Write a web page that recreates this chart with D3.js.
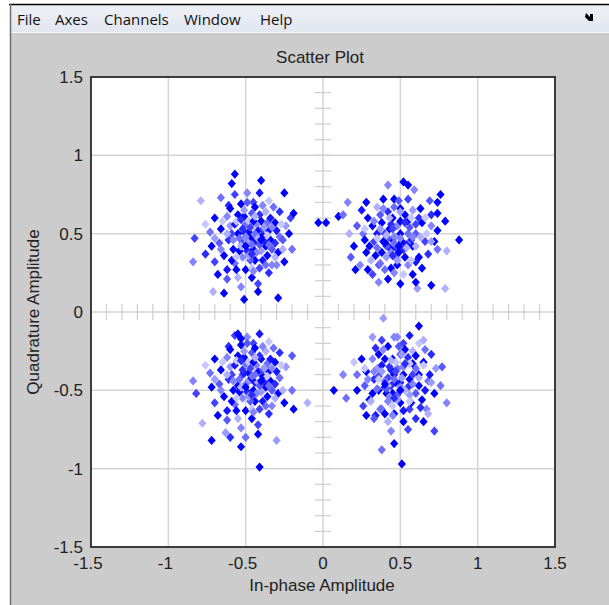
<!DOCTYPE html>
<html><head><meta charset="utf-8">
<script src="https://cdn.jsdelivr.net/npm/d3@7"></script>
<style>html,body{margin:0;padding:0;background:#fff;}svg{display:block;}</style>
</head><body>
<script>
// ---- data: [in-phase, quadrature, fade (0 = newest/blue, 1 = oldest/faint)] ----
const menuItems = ["File", "Axes", "Channels", "Window", "Help"];
const xTicks = [-1.5, -1, -0.5, 0, 0.5, 1, 1.5];
const yTicks = [-1.5, -1, -0.5, 0, 0.5, 1, 1.5];
const titleText = "Scatter Plot";
const xLabel = "In-phase Amplitude";
const yLabel = "Quadrature Amplitude";

const clusterTL = [
[-0.47,0.47,0],[-0.42,0.52,0],[-0.52,0.44,0.3],[-0.45,0.40,0],[-0.38,0.45,0.2],[-0.55,0.50,0],[-0.50,0.56,0.5],[-0.40,0.58,0],
[-0.35,0.52,0],[-0.33,0.40,0.4],[-0.44,0.33,0],[-0.52,0.35,0.6],[-0.58,0.40,0],[-0.61,0.46,0.2],[-0.60,0.55,0.7],[-0.55,0.62,0],
[-0.46,0.63,0.4],[-0.37,0.64,0.8],[-0.31,0.57,0],[-0.28,0.48,0.5],[-0.36,0.36,0],[-0.41,0.28,0.3],[-0.50,0.27,0],[-0.57,0.31,0.5],
[-0.64,0.36,0],[-0.67,0.44,0.4],[-0.66,0.53,0],[-0.62,0.61,0.6],[-0.53,0.69,0],[-0.45,0.70,0.3],[-0.35,0.71,0.9],[-0.28,0.64,0.2],
[-0.24,0.55,0.7],[-0.29,0.38,0],[-0.33,0.30,0.6],[-0.46,0.22,0],[-0.55,0.22,0.8],[-0.62,0.27,0.1],[-0.70,0.32,0.3],[-0.72,0.42,0],
[-0.73,0.51,0.5],[-0.70,0.60,0],[-0.61,0.68,0.2],[-0.49,0.76,0.6],[-0.41,0.76,0.1],[-0.32,0.67,0.5],[-0.44,0.45,0.1],[-0.48,0.51,0],
[-0.43,0.56,0.6],[-0.39,0.49,0],[-0.49,0.39,0.2],[-0.54,0.47,0.5],[-0.57,0.56,0.1],[-0.51,0.61,0],[-0.41,0.62,0.2],[-0.36,0.57,0.5],
[-0.34,0.46,0],[-0.40,0.39,0.7],[-0.47,0.33,0.4],[-0.54,0.39,0],[-0.59,0.50,0.3],[-0.48,0.58,0.9],[-0.44,0.50,0.5],[-0.37,0.42,0],
[-0.31,0.44,0.2],[-0.26,0.40,0.8],[-0.39,0.33,0.1],[-0.59,0.33,0],[-0.66,0.40,0.6],[-0.51,0.51,0.1],[-0.46,0.28,0.9],[-0.35,0.25,0.2],
[-0.25,0.32,0],[-0.62,0.21,0.4],[-0.68,0.24,0],[-0.76,0.56,0.9],[-0.57,0.75,0.3],[-0.44,0.67,0],[-0.30,0.52,0.1],[-0.20,0.40,0.5],
[-0.42,0.18,0.3],[-0.53,0.16,0.6],[-0.60,0.66,0],[-0.39,0.53,0.3],[-0.52,0.53,0.2],[-0.56,0.27,0],[-0.34,0.60,0.1],[-0.49,0.45,0.7],
[-0.45,0.58,0],
[-0.46,0.43,0.5],[-0.42,0.47,0.8],[-0.50,0.48,0.6],[-0.47,0.54,0.3],[-0.38,0.54,0.7],[-0.43,0.38,0.6],[-0.53,0.42,0.8],[-0.56,0.58,0.9],
[-0.36,0.49,0.9],[-0.41,0.43,0.4],[-0.51,0.65,0.7],[-0.33,0.54,0.6],[-0.56,0.35,0.9],[-0.48,0.36,0.7],[-0.62,0.50,0.8],[-0.39,0.68,0.6],
[-0.27,0.56,0.9],[-0.45,0.26,0.6],[-0.65,0.58,0.9],[-0.58,0.46,0.6],[-0.49,0.70,0.4],[-0.31,0.35,0.8],[-0.70,0.47,0.7],[-0.37,0.30,0.5],
[-0.53,0.59,0.2],[-0.44,0.61,0.8],[-0.40,0.46,0],[-0.50,0.42,0],[-0.46,0.37,0.2],[-0.35,0.43,0.5],
[-0.57,0.88,0],[-0.59,0.82,0],[-0.40,0.84,0],[-0.25,0.76,0],[-0.79,0.71,0.8],[-0.03,0.57,0],[-0.84,0.32,0.6],[-0.64,0.12,0],
[-0.51,0.08,0],[-0.29,0.09,0],[-0.42,0.13,0],[-0.71,0.13,0.8],[-0.76,0.37,0.2],[-0.83,0.47,0.3],[-0.66,0.73,0.5],[-0.26,0.46,0.4],
[-0.22,0.50,0],[-0.21,0.60,0.3],[-0.30,0.30,0.6],[-0.19,0.63,0]
];

const clusterTR = [
[0.45,0.46,0],[0.50,0.50,0],[0.40,0.50,0.3],[0.42,0.42,0],[0.52,0.40,0.2],[0.48,0.55,0.6],[0.38,0.57,0],[0.55,0.58,0],
[0.60,0.50,0.4],[0.58,0.42,0],[0.47,0.35,0.5],[0.38,0.38,0],[0.33,0.45,0.3],[0.32,0.55,0],[0.42,0.64,0.2],[0.50,0.66,0],
[0.58,0.65,0.7],[0.64,0.57,0],[0.66,0.45,0.3],[0.62,0.35,0],[0.55,0.30,0.6],[0.44,0.28,0],[0.36,0.30,0.4],[0.28,0.38,0],
[0.26,0.50,0.5],[0.29,0.60,0],[0.35,0.67,0.8],[0.46,0.72,0],[0.55,0.72,0.3],[0.63,0.66,0],[0.70,0.55,0.6],[0.72,0.45,0],
[0.68,0.37,0.2],[0.64,0.28,0],[0.52,0.24,0.9],[0.42,0.21,0],[0.32,0.24,0.3],[0.24,0.30,0.6],[0.20,0.42,0],[0.22,0.55,0.4],
[0.25,0.65,0.1],[0.46,0.48,0.6],[0.43,0.53,0],[0.51,0.45,0],[0.47,0.41,0.3],[0.39,0.45,0],[0.55,0.50,0.5],[0.53,0.35,0],
[0.41,0.35,0.7],[0.35,0.50,0.1],[0.45,0.60,0],[0.57,0.46,0.2],[0.48,0.30,0],[0.60,0.42,0.8],[0.37,0.62,0.4],[0.53,0.62,0],
[0.62,0.60,0.2],[0.30,0.42,0],[0.40,0.27,0.5],[0.58,0.24,0],[0.67,0.50,0.9],[0.49,0.38,0],[0.44,0.56,0.2],[0.34,0.36,0],
[0.56,0.54,0.4],[0.27,0.46,0],[0.46,0.67,0.5],[0.39,0.72,0],[0.59,0.78,0.6],[0.70,0.62,0.2],[0.74,0.52,0],[0.74,0.40,0.5],
[0.60,0.32,0.1],[0.50,0.18,0],[0.36,0.19,0.6],[0.29,0.27,0],[0.18,0.35,0.4],[0.17,0.50,0.8],[0.54,0.43,0.1],[0.42,0.47,0.4],
[0.50,0.58,0],[0.60,0.56,0.3],[0.44,0.40,0.1],
[0.46,0.44,0.5],[0.41,0.49,0.8],[0.50,0.47,0.6],[0.45,0.53,0.3],[0.37,0.53,0.7],[0.44,0.38,0.6],[0.54,0.41,0.8],[0.57,0.60,0.9],
[0.35,0.47,0.9],[0.41,0.42,0.4],[0.50,0.64,0.7],[0.33,0.58,0.6],[0.57,0.33,0.9],[0.48,0.33,0.7],[0.63,0.48,0.8],[0.39,0.66,0.6],
[0.27,0.53,0.9],[0.46,0.25,0.6],[0.66,0.60,0.9],[0.58,0.48,0.6],[0.49,0.71,0.4],[0.31,0.33,0.8],[0.70,0.45,0.7],[0.37,0.31,0.5],
[0.53,0.57,0.2],[0.43,0.60,0.8],[0.40,0.44,0],[0.49,0.42,0],[0.45,0.36,0.2],[0.35,0.41,0.5],
[0.52,0.83,0],[0.55,0.81,0],[0.42,0.81,0.6],[0.76,0.75,0],[0.74,0.70,0],[0.74,0.63,0],[0.79,0.58,0],[0.88,0.46,0],
[0.10,0.61,0],[0.16,0.70,0.6],[0.28,0.70,0],[0.69,0.71,0.4],[0.79,0.15,0.8],[0.70,0.17,0],[0.61,0.15,0.7],[0.21,0.27,0],
[0.80,0.39,0.8],[0.60,0.19,0],[0.02,0.57,0],[0.13,0.62,0.5]
];

const clusterBL = [
[-0.47,-0.43,0],[-0.42,-0.38,0],[-0.52,-0.40,0.3],[-0.45,-0.50,0],[-0.38,-0.45,0.2],[-0.55,-0.47,0],[-0.50,-0.33,0.5],[-0.40,-0.30,0],
[-0.35,-0.38,0],[-0.33,-0.50,0.4],[-0.44,-0.57,0],[-0.52,-0.55,0.6],[-0.58,-0.50,0],[-0.61,-0.43,0.2],[-0.60,-0.35,0.7],[-0.55,-0.28,0],
[-0.46,-0.26,0.4],[-0.37,-0.25,0.8],[-0.31,-0.32,0],[-0.28,-0.42,0.5],[-0.36,-0.54,0],[-0.41,-0.62,0.3],[-0.50,-0.63,0],[-0.57,-0.59,0.5],
[-0.64,-0.54,0],[-0.67,-0.46,0.4],[-0.66,-0.37,0],[-0.62,-0.29,0.6],[-0.53,-0.21,0],[-0.45,-0.20,0.3],[-0.35,-0.19,0.9],[-0.28,-0.26,0.2],
[-0.24,-0.35,0.7],[-0.29,-0.52,0],[-0.33,-0.60,0.6],[-0.46,-0.68,0],[-0.55,-0.68,0.8],[-0.62,-0.63,0.1],[-0.70,-0.58,0.3],[-0.72,-0.48,0],
[-0.73,-0.39,0.5],[-0.70,-0.30,0],[-0.61,-0.22,0.2],[-0.49,-0.16,0.6],[-0.41,-0.14,0.1],[-0.32,-0.23,0.5],[-0.44,-0.45,0.1],[-0.48,-0.39,0],
[-0.43,-0.34,0.6],[-0.39,-0.41,0],[-0.49,-0.51,0.2],[-0.54,-0.43,0.5],[-0.57,-0.34,0.1],[-0.51,-0.29,0],[-0.41,-0.28,0.2],[-0.36,-0.33,0.5],
[-0.34,-0.44,0],[-0.40,-0.51,0.7],[-0.47,-0.57,0.4],[-0.54,-0.51,0],[-0.59,-0.40,0.3],[-0.48,-0.32,0.9],[-0.44,-0.40,0.5],[-0.37,-0.48,0],
[-0.31,-0.46,0.2],[-0.26,-0.50,0.8],[-0.39,-0.57,0.1],[-0.59,-0.57,0],[-0.66,-0.50,0.6],[-0.51,-0.39,0.1],[-0.46,-0.62,0.9],[-0.35,-0.65,0.2],
[-0.25,-0.58,0],[-0.62,-0.69,0.4],[-0.68,-0.66,0],[-0.76,-0.34,0.9],[-0.57,-0.15,0.3],[-0.44,-0.23,0],[-0.30,-0.38,0.1],[-0.20,-0.50,0.5],
[-0.42,-0.72,0.3],[-0.53,-0.74,0.6],[-0.60,-0.24,0],[-0.39,-0.37,0.3],[-0.52,-0.37,0.2],[-0.56,-0.63,0],[-0.34,-0.30,0.1],[-0.49,-0.45,0.7],
[-0.45,-0.32,0],[-0.42,-0.78,0],[-0.50,-0.80,0.5],
[-0.46,-0.41,0.5],[-0.42,-0.45,0.8],[-0.50,-0.46,0.6],[-0.47,-0.36,0.3],[-0.38,-0.36,0.7],[-0.43,-0.52,0.6],[-0.53,-0.48,0.8],[-0.56,-0.31,0.9],
[-0.36,-0.41,0.9],[-0.41,-0.47,0.4],[-0.51,-0.25,0.7],[-0.33,-0.36,0.6],[-0.56,-0.55,0.9],[-0.48,-0.54,0.7],[-0.62,-0.40,0.8],[-0.39,-0.22,0.6],
[-0.27,-0.34,0.9],[-0.45,-0.64,0.6],[-0.65,-0.32,0.9],[-0.58,-0.44,0.6],[-0.49,-0.20,0.4],[-0.31,-0.55,0.8],[-0.70,-0.43,0.7],[-0.37,-0.60,0.5],
[-0.53,-0.31,0.2],[-0.44,-0.29,0.8],[-0.40,-0.44,0],[-0.50,-0.48,0],[-0.46,-0.53,0.2],[-0.35,-0.47,0.5],
[-0.41,-0.99,0],[-0.53,-0.86,0],[-0.72,-0.82,0],[-0.84,-0.44,0.6],[-0.82,-0.52,0.3],[-0.53,-0.17,0],[-0.55,-0.14,0],[-0.20,-0.28,0.4],
[-0.10,-0.58,0.8],[-0.63,-0.77,0.7],[-0.78,-0.71,0.8],[-0.19,-0.62,0],[-0.60,-0.80,0.2],[-0.30,-0.82,0.7]
];

const clusterBR = [
[0.47,-0.45,0],[0.52,-0.40,0],[0.42,-0.42,0.3],[0.45,-0.52,0],[0.55,-0.48,0.2],[0.40,-0.48,0],[0.48,-0.36,0.5],[0.58,-0.33,0],
[0.62,-0.40,0],[0.60,-0.52,0.4],[0.50,-0.58,0],[0.42,-0.57,0.6],[0.36,-0.50,0],[0.33,-0.43,0.2],[0.35,-0.36,0.7],[0.40,-0.30,0],
[0.50,-0.27,0.4],[0.58,-0.25,0.8],[0.65,-0.32,0],[0.68,-0.44,0.5],[0.64,-0.56,0],[0.56,-0.62,0.3],[0.46,-0.65,0],[0.38,-0.62,0.5],
[0.30,-0.56,0],[0.27,-0.47,0.4],[0.28,-0.38,0],[0.32,-0.30,0.6],[0.42,-0.22,0],[0.52,-0.20,0.3],[0.62,-0.20,0.9],[0.70,-0.27,0.2],
[0.73,-0.36,0.7],[0.72,-0.52,0],[0.67,-0.62,0.6],[0.52,-0.70,0],[0.42,-0.70,0.8],[0.34,-0.66,0.1],[0.26,-0.60,0.3],[0.22,-0.50,0],
[0.22,-0.40,0.5],[0.25,-0.30,0],[0.34,-0.23,0.2],[0.46,-0.16,0.6],[0.56,-0.15,0.1],[0.66,-0.24,0.5],[0.50,-0.45,0.1],[0.46,-0.40,0],
[0.52,-0.35,0.6],[0.56,-0.43,0],[0.44,-0.47,0.2],[0.40,-0.44,0.5],[0.38,-0.34,0.1],[0.45,-0.30,0],[0.55,-0.29,0.2],[0.60,-0.36,0.5],
[0.62,-0.47,0],[0.56,-0.53,0.7],[0.48,-0.53,0.4],[0.41,-0.52,0],[0.36,-0.41,0.3],[0.47,-0.32,0.9],[0.50,-0.50,0.5],[0.57,-0.58,0],
[0.63,-0.61,0.2],[0.68,-0.65,0.8],[0.52,-0.63,0.1],[0.32,-0.52,0],[0.29,-0.43,0.6],[0.44,-0.37,0.1],[0.45,-0.60,0.9],[0.60,-0.68,0.2],
[0.65,-0.70,0],[0.33,-0.68,0.4],[0.28,-0.66,0],[0.20,-0.32,0.9],[0.38,-0.18,0.3],[0.53,-0.24,0],[0.69,-0.40,0.1],[0.76,-0.47,0.5],
[0.55,-0.75,0.3],[0.44,-0.76,0.6],[0.36,-0.27,0],[0.58,-0.40,0.3],[0.43,-0.35,0.2],[0.40,-0.65,0],[0.66,-0.50,0.1],[0.51,-0.42,0.7],
[0.60,-0.28,0],[0.46,-0.84,0],[0.38,-0.88,0.5],
[0.46,-0.43,0.5],[0.42,-0.47,0.8],[0.50,-0.48,0.6],[0.47,-0.38,0.3],[0.38,-0.38,0.7],[0.43,-0.54,0.6],[0.53,-0.50,0.8],[0.56,-0.33,0.9],
[0.36,-0.43,0.9],[0.41,-0.49,0.4],[0.51,-0.27,0.7],[0.33,-0.38,0.6],[0.56,-0.57,0.9],[0.48,-0.56,0.7],[0.62,-0.42,0.8],[0.39,-0.24,0.6],
[0.27,-0.36,0.9],[0.45,-0.66,0.6],[0.65,-0.34,0.9],[0.58,-0.46,0.6],[0.49,-0.22,0.4],[0.31,-0.57,0.8],[0.70,-0.45,0.7],[0.37,-0.62,0.5],
[0.53,-0.33,0.2],[0.44,-0.31,0.8],[0.40,-0.46,0],[0.50,-0.50,0],[0.46,-0.55,0.2],[0.35,-0.49,0.5],
[0.62,-0.09,0],[0.51,-0.97,0],[0.39,-0.04,0.7],[0.48,-0.16,0.6],[0.32,-0.16,0.7],[0.07,-0.50,0],[0.77,-0.35,0.4],[0.65,-0.18,0.8],
[0.80,-0.58,0.6],[0.15,-0.55,0.5],[0.13,-0.40,0.6],[0.72,-0.76,0.3]
];

// ---- drawing ----
const W = 609, H = 605;
const svg = d3.select("body").append("svg").attr("width", W).attr("height", H);

svg.append("rect").attr("width", W).attr("height", H).attr("fill", "#ffffff");
// figure window frame
svg.append("rect").attr("x", 11).attr("y", 33).attr("width", W - 11).attr("height", H - 33).attr("fill", "#cccccc");
const grad = svg.append("defs").append("linearGradient").attr("id", "menuGrad").attr("x1", 0).attr("x2", 0).attr("y1", 0).attr("y2", 1);
grad.append("stop").attr("offset", "0%").attr("stop-color", "#eef0f6");
grad.append("stop").attr("offset", "100%").attr("stop-color", "#e2e6ef");
svg.append("rect").attr("x", 11).attr("y", 5).attr("width", W - 11).attr("height", 27).attr("fill", "url(#menuGrad)");
svg.append("line").attr("x1", 11).attr("x2", W).attr("y1", 32.5).attr("y2", 32.5).attr("stroke", "#f8f8f8").attr("stroke-width", 1);
svg.append("line").attr("x1", 9).attr("x2", W).attr("y1", 4.5).attr("y2", 4.5).attr("stroke", "#000").attr("stroke-width", 1.5);
svg.append("line").attr("x1", 10.5).attr("x2", 10.5).attr("y1", 4).attr("y2", H).attr("stroke", "#6d6d6d").attr("stroke-width", 1.5);

// menu
const menuX = [17, 55, 104, 184, 260];
svg.append("g").selectAll("text").data(menuItems).join("text")
  .attr("x", (d, i) => menuX[i]).attr("y", 25)
  .attr("font-family", "'Open Sans', 'Noto Sans', sans-serif").attr("font-size", 15)
  .attr("fill", "#111").text(d => d);
// dock arrow icon
svg.append("path").attr("d", "M586,13 L590,17 L590,14 L593,14 L593,21 L586,21 L589,21 L585,17 Z")
  .attr("fill", "#000");

// scales
const x = d3.scaleLinear().domain([-1.5, 1.5]).range([91, 555]);
const y = d3.scaleLinear().domain([-1.5, 1.5]).range([547, 77]);

// plot area
svg.append("rect").attr("x", x(-1.5)).attr("y", y(1.5)).attr("width", x(1.5) - x(-1.5)).attr("height", y(-1.5) - y(1.5)).attr("fill", "#fff");

const grid = svg.append("g").attr("stroke", "#d5d5d5").attr("stroke-width", 1.5);
grid.selectAll("line.vx").data(xTicks.filter(t => t > -1.5 && t < 1.5)).join("line")
  .attr("x1", d => x(d)).attr("x2", d => x(d)).attr("y1", y(1.5)).attr("y2", y(-1.5));
grid.selectAll("line.hy").data(yTicks.filter(t => t > -1.5 && t < 1.5)).join("line")
  .attr("class", "hy")
  .attr("x1", x(-1.5)).attr("x2", x(1.5)).attr("y1", d => y(d)).attr("y2", d => y(d));

// minor cross-hair ticks every 0.1
const minor = d3.range(-14, 15).map(i => i / 10).filter(v => Math.abs(v) > 1e-9);
const cross = svg.append("g").attr("stroke", "#cfcfcf").attr("stroke-width", 1.2);
cross.selectAll("line.mx").data(minor).join("line").attr("class", "mx")
  .attr("x1", d => x(d)).attr("x2", d => x(d)).attr("y1", y(0) - 8).attr("y2", y(0) + 8);
cross.selectAll("line.my").data(minor).join("line").attr("class", "my")
  .attr("x1", x(0) - 8).attr("x2", x(0) + 8).attr("y1", d => y(d)).attr("y2", d => y(d));

// points: drawn in list order so faint and strong points interleave
const allPts = [].concat(clusterTL, clusterTR, clusterBL, clusterBR);
const col = d3.interpolateRgb("#0000ff", "#dcdcff");
const diamond = "M0,-4.6L4.1,0L0,4.6L-4.1,0Z";
svg.append("g").selectAll("path").data(allPts).join("path")
  .attr("d", diamond)
  .attr("transform", d => `translate(${x(d[0])},${y(d[1])})`)
  .attr("fill", d => col(d[2]));

// frame
svg.append("rect").attr("x", x(-1.5)).attr("y", y(1.5)).attr("width", x(1.5) - x(-1.5)).attr("height", y(-1.5) - y(1.5))
  .attr("fill", "none").attr("stroke", "#2a2a2a").attr("stroke-width", 1.8);

// tick labels
const fmt = d => d === 0 ? "0" : String(d);
const font = "'Liberation Sans', Arial, sans-serif";
svg.append("g").selectAll("text").data(xTicks).join("text")
  .attr("x", d => x(d) + (d < 0 ? -3 : 0)).attr("y", 569)
  .attr("text-anchor", "middle").attr("font-family", font).attr("font-size", 17).attr("fill", "#222")
  .text(fmt);
svg.append("g").selectAll("text").data(yTicks).join("text")
  .attr("x", 83).attr("y", d => y(d) + 6)
  .attr("text-anchor", "end").attr("font-family", font).attr("font-size", 17).attr("fill", "#222")
  .text(fmt);

// titles
svg.append("text").attr("x", 320).attr("y", 63).attr("text-anchor", "middle")
  .attr("font-family", font).attr("font-size", 17).attr("fill", "#222").text(titleText);
svg.append("text").attr("x", 322).attr("y", 591).attr("text-anchor", "middle")
  .attr("font-family", font).attr("font-size", 17).attr("fill", "#222").text(xLabel);
svg.append("text").attr("transform", `translate(39,${y(0)}) rotate(-90)`).attr("text-anchor", "middle")
  .attr("font-family", font).attr("font-size", 17).attr("fill", "#222").text(yLabel);
</script>
</body></html>
